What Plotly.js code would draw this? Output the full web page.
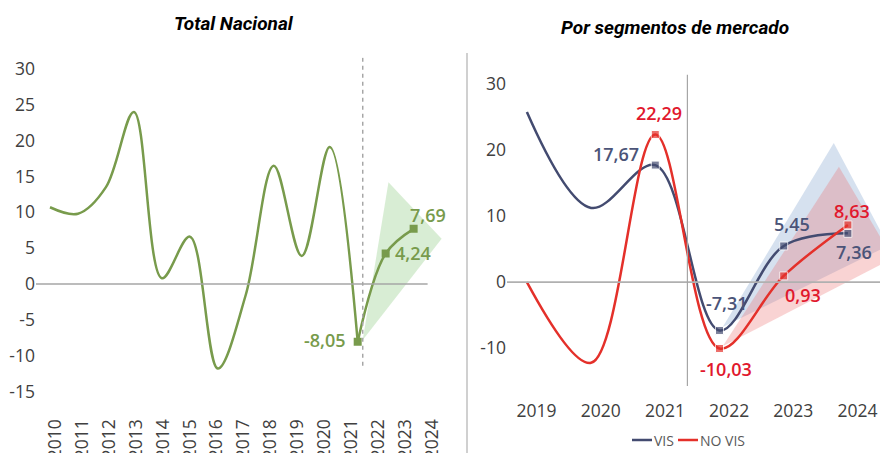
<!DOCTYPE html>
<html>
<head>
<meta charset="utf-8">
<script src="https://cdn.plot.ly/plotly-3.0.1.min.js"></script>
<style>html,body{margin:0;padding:0;background:#fff;}#chart{width:880px;height:453px;}</style>
</head>
<body>
<div id="chart"></div>
<script>
// ---------- DATA ----------
// Total Nacional
const totalAxisYears = [2010,2011,2012,2013,2014,2015,2016,2017,2018,2019,2020,2021,2022,2023,2024];
const totalHistYears = [2010,2011,2012,2013,2014,2015,2016,2017,2018,2019,2020,2021];
const totalHist      = [10.7, 9.8, 13.5, 24.0, 0.8, 6.6, -11.8, -1.5, 16.5, 3.9, 19.1, -8.05];
const totalFcYears   = [2021, 2022, 2023];
const totalFc        = [-8.05, 4.24, 7.69];
const totalFanX      = [2021.18, 2022.1, 2024.0];
const totalFanY      = [-7.8, 14.2, 6.3];
const totalYTicks    = [-15,-10,-5,0,5,10,15,20,25,30];

// Por segmentos de mercado
const segYears   = [2019, 2020, 2021, 2022, 2023, 2024];
const vis        = [25.7, 11.2, 17.67, -7.31, 5.45, 7.36];
const noVis      = [0.0, -12.2, 22.29, -10.03, 0.93, 8.63];
const visFanX    = [2022.05, 2023.78, 2024.63];
const visFanY    = [-6.8, 21.0, 5.5];
const noVisFanX  = [2022.05, 2023.86, 2024.70];
const noVisFanY  = [-9.7, 17.4, 3.6];
const segYTicks  = [-10, 0, 10, 20, 30];

// ---------- STYLE ----------
const GREEN = '#789b4c', NAVY = '#434b70', RED = '#e4302a';
const NAVY_TXT = '#4b5478', RED_TXT = '#e1182d';
const TICK_FONT = {family:'Open Sans', size:17.5, color:'#404040'};
const LBL_FONT = (c) => ({family:'Open Sans', size:18, color:c, weight:600});
const TITLE_FONT = {family:'Roboto', size:19, color:'#000', weight:700, style:'italic'};
const fmt = v => v.toFixed(2).replace('.', ',');
const W = 880, H = 453;
const px = v => v / W, py = v => 1 - v / H;

// ---------- TRACES ----------
const traces = [
  {x: totalFanX, y: totalFanY, xaxis:'x', yaxis:'y', type:'scatter', mode:'lines',
   fill:'toself', fillcolor:'rgba(168,214,160,0.45)', line:{width:0}, hoverinfo:'skip'},
  {x: totalHistYears, y: totalHist, xaxis:'x', yaxis:'y', type:'scatter', mode:'lines',
   line:{color:GREEN, width:2.5, shape:'spline', smoothing:1}},
  {x: totalFcYears, y: totalFc, xaxis:'x', yaxis:'y', type:'scatter', mode:'lines+markers',
   line:{color:GREEN, width:2.5, shape:'spline', smoothing:1},
   marker:{symbol:'square', size:8, color:GREEN}},

  {x: visFanX, y: visFanY, xaxis:'x2', yaxis:'y2', type:'scatter', mode:'lines',
   fill:'toself', fillcolor:'rgba(180,200,225,0.55)', line:{width:0}, hoverinfo:'skip'},
  {x: noVisFanX, y: noVisFanY, xaxis:'x2', yaxis:'y2', type:'scatter', mode:'lines',
   fill:'toself', fillcolor:'rgba(235,110,110,0.30)', line:{width:0}, hoverinfo:'skip'},
  {x: segYears, y: vis, xaxis:'x2', yaxis:'y2', type:'scatter', mode:'lines+markers', name:'VIS',
   line:{color:NAVY, width:2.5, shape:'spline', smoothing:1},
   marker:{symbol:'square', size: segYears.map(y => y >= 2021 ? 8 : 0), color:NAVY}},
  {x: segYears, y: noVis, xaxis:'x2', yaxis:'y2', type:'scatter', mode:'lines+markers', name:'NO VIS',
   line:{color:RED, width:2.5, shape:'spline', smoothing:1},
   marker:{symbol:'square', size: segYears.map(y => y >= 2021 ? 8 : 0), color:RED}}
];

// ---------- LABELS ----------
const annotations = [
  {text:'Total Nacional', xref:'paper', yref:'paper', x:px(234), y:py(23), xanchor:'center', yanchor:'middle',
   showarrow:false, font:TITLE_FONT},
  {text:'Por segmentos de mercado', xref:'paper', yref:'paper', x:px(675), y:py(28), xanchor:'center', yanchor:'middle',
   showarrow:false, font:TITLE_FONT},
  {text:'VIS', xref:'paper', yref:'paper', x:px(652), y:py(440), xanchor:'left', yanchor:'middle', showarrow:false,
   font:{family:'Open Sans', size:14, color:'#595959'}},
  {text:'NO VIS', xref:'paper', yref:'paper', x:px(698), y:py(440), xanchor:'left', yanchor:'middle', showarrow:false,
   font:{family:'Open Sans', size:14, color:'#595959'}}
];
const totalLblShift = [[-33, 2], [27, 1], [14, 14]];
totalFc.forEach((v, i) => annotations.push({
  text: fmt(v), xref:'x', yref:'y', x: totalFcYears[i], y: v, showarrow:false,
  xshift: totalLblShift[i][0], yshift: totalLblShift[i][1], font: LBL_FONT(GREEN)}));
const visLblShift   = {2021:[-39, 11], 2022:[7, 27], 2023:[8, 22], 2024:[6, -19]};
const noVisLblShift = {2021:[4, 21], 2022:[6, -21], 2023:[19, -19], 2024:[4, 14]};
segYears.forEach((yr, i) => {
  if (visLblShift[yr]) annotations.push({text: fmt(vis[i]), xref:'x2', yref:'y2', x: yr, y: vis[i],
    showarrow:false, xshift: visLblShift[yr][0], yshift: visLblShift[yr][1], font: LBL_FONT(NAVY_TXT)});
  if (noVisLblShift[yr]) annotations.push({text: fmt(noVis[i]), xref:'x2', yref:'y2', x: yr, y: noVis[i],
    showarrow:false, xshift: noVisLblShift[yr][0], yshift: noVisLblShift[yr][1], font: LBL_FONT(RED_TXT)});
});

// ---------- SHAPES ----------
const shapes = [
  {type:'line', xref:'x', yref:'y', x0:2009.5, x1:2023.5, y0:0, y1:0, line:{color:'#a6a6a6', width:1.5}},
  {type:'line', xref:'x', yref:'y', x0:2021.18, x1:2021.18, y0:-11.4, y1:31.6, line:{color:'#a6a6a6', width:1.5, dash:'4px,4px'}},
  {type:'line', xref:'x2', yref:'y2', x0:2018.69, x1:2024.6, y0:0, y1:0, line:{color:'#b0b0b0', width:1.8}},
  {type:'line', xref:'x2', yref:'y2', x0:2021.5, x1:2021.5, y0:-15.7, y1:31.3, line:{color:'#a6a6a6', width:1.2}},
  {type:'line', xref:'paper', yref:'paper', x0:px(467), x1:px(467), y0:0, y1:py(53), line:{color:'#c0c0c0', width:1.5}},
  {type:'line', xref:'paper', yref:'paper', x0:px(632), x1:px(652), y0:py(440), y1:py(440), line:{color:NAVY, width:2.5}},
  {type:'line', xref:'paper', yref:'paper', x0:px(678), x1:px(698), y0:py(440), y1:py(440), line:{color:RED, width:2.5}}
];

// ---------- LAYOUT ----------
const base = {showgrid:false, zeroline:false, showline:false, ticks:'', fixedrange:true, tickfont:TICK_FONT};
const layout = {
  width:W, height:H, margin:{l:0, r:0, t:0, b:0},
  paper_bgcolor:'#fff', plot_bgcolor:'rgba(0,0,0,0)', showlegend:false,
  xaxis: Object.assign({}, base, {domain:[px(36), px(450)], range:[2009.5, 2024.3], anchor:'y',
    tickmode:'array', tickvals: totalAxisYears.map((y, i) => y + 0.18 - 0.036 * i),
    ticktext: totalAxisYears.map(String), tickangle:-90, ticklabelstandoff:16}),
  yaxis: Object.assign({}, base, {domain:[py(398.7), py(57.4)], range:[-16, 31.6], anchor:'x',
    tickmode:'array', tickvals: totalYTicks, ticktext: totalYTicks.map(String)}),
  xaxis2: Object.assign({}, base, {domain:[px(507), 1], range:[2018.69, 2024.5], anchor:'y2',
    tickmode:'array', tickvals: segYears.map(y => y + 0.15), ticktext: segYears.map(String), ticklabelstandoff:10}),
  yaxis2: Object.assign({}, base, {domain:[py(388), py(73.5)], range:[-16, 31.5], anchor:'x2',
    tickmode:'array', tickvals: segYTicks, ticktext: segYTicks.map(String)}),
  annotations, shapes
};

Plotly.newPlot('chart', traces, layout, {displayModeBar:false, staticPlot:true});
</script>
</body>
</html>
